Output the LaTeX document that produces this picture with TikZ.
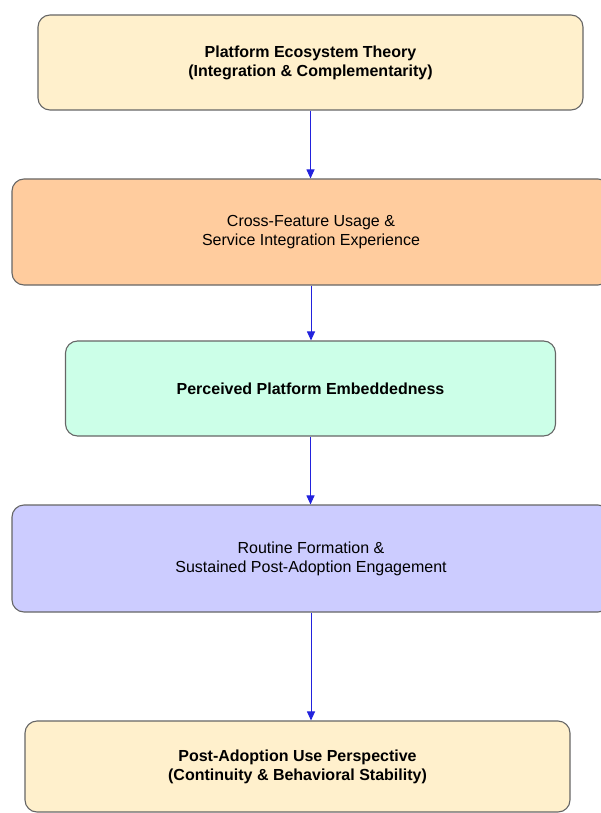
\documentclass[tikz,border=0pt]{standalone}
\usepackage{fontspec}
\setmainfont{Liberation Sans}
\usetikzlibrary{arrows.meta}

\definecolor{theorycol}{HTML}{FFF0CC}
\definecolor{usagecol}{HTML}{FFCC9E}
\definecolor{embedcol}{HTML}{CCFFE8}
\definecolor{routinecol}{HTML}{CCCCFF}
\definecolor{flowcol}{HTML}{2222DD}

\tikzset{
	stage/.style={draw=black!60, line width=1.1pt, rounded corners=12pt,
		align=center, inner sep=0pt, font=\fontsize{16}{19}\selectfont},
	flow/.style={draw=flowcol, line width=1pt, -{Triangle[width=8pt,length=9pt]}}
}

\begin{document}
\begin{tikzpicture}[x=1pt, y=-1pt]
\useasboundingbox (0,0) rectangle (600,813);

% Etapas
\node[stage, fill=theorycol, minimum width=545pt, minimum height=95pt, font=\fontsize{16}{19}\selectfont\bfseries] (eco) at (310.5,62.5)
	{Platform Ecosystem Theory\\(Integration \& Complementarity)};
\node[stage, fill=usagecol, minimum width=598pt, minimum height=106pt] (usage) at (311,232)
	{Cross-Feature Usage \&\\Service Integration Experience};
\node[stage, fill=embedcol, minimum width=490pt, minimum height=95pt, font=\fontsize{16}{19}\selectfont\bfseries] (embed) at (310.5,388.5)
	{Perceived Platform Embeddedness};
\node[stage, fill=routinecol, minimum width=598pt, minimum height=107pt] (routine) at (311,558.5)
	{Routine Formation \&\\Sustained Post-Adoption Engagement};
\node[stage, fill=theorycol, minimum width=545pt, minimum height=91pt, font=\fontsize{16}{19}\selectfont\bfseries] (post) at (297.5,766.5)
	{Post-Adoption Use Perspective\\(Continuity \& Behavioral Stability)};

% Flechas
\foreach \a/\b in {eco/usage, usage/embed, embed/routine, routine/post}
	\draw[flow] (\a.south) -- (\a.south |- \b.north);
\end{tikzpicture}
\end{document}
